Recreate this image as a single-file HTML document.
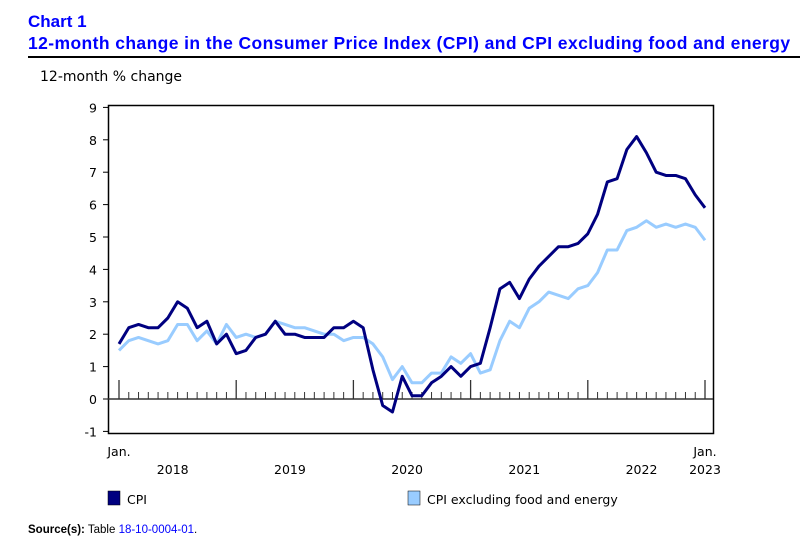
<!DOCTYPE html>
<html><head><meta charset="utf-8"><style>
body{margin:0;width:800px;height:547px;background:#fff;font-family:"DejaVu Sans",sans-serif;overflow:hidden;position:relative}
.t{position:absolute;left:28px;color:#0000ff;font-weight:bold;font-size:16px;white-space:nowrap;font-family:"Liberation Sans",sans-serif}
</style></head><body>
<div class="t" style="top:12px;font-size:17px">Chart 1</div>
<div class="t" style="top:33px;font-size:17.5px;letter-spacing:0.4px">12-month change in the Consumer Price Index (CPI) and CPI excluding food and energy</div>
<div style="position:absolute;left:28px;top:56px;width:772px;height:2px;background:#000"></div>
<svg id="c" width="800" height="547" style="position:absolute;left:0;top:0"></svg>
<div style="position:absolute;left:28px;top:524px;font-size:11.5px;font-family:'Liberation Sans',sans-serif"><b>Source(s):</b> Table <span style="color:#0000ff">18-10-0004-01</span>.</div>
<script>
const cpi=[1.7,2.2,2.3,2.2,2.2,2.5,3.0,2.8,2.2,2.4,1.7,2.0,1.4,1.5,1.9,2.0,2.4,2.0,2.0,1.9,1.9,1.9,2.2,2.2,2.4,2.2,0.9,-0.2,-0.4,0.7,0.1,0.1,0.5,0.7,1.0,0.7,1.0,1.1,2.2,3.4,3.6,3.1,3.7,4.1,4.4,4.7,4.7,4.8,5.1,5.7,6.7,6.8,7.7,8.1,7.6,7.0,6.9,6.9,6.8,6.3,5.9];
const core=[1.5,1.8,1.9,1.8,1.7,1.8,2.3,2.3,1.8,2.1,1.7,2.3,1.9,2.0,1.9,2.0,2.4,2.3,2.2,2.2,2.1,2.0,2.0,1.8,1.9,1.9,1.7,1.3,0.6,1.0,0.5,0.5,0.8,0.8,1.3,1.1,1.4,0.8,0.9,1.8,2.4,2.2,2.8,3.0,3.3,3.2,3.1,3.4,3.5,3.9,4.6,4.6,5.2,5.3,5.5,5.3,5.4,5.3,5.4,5.3,4.9];
const yTicks=[9,8,7,6,5,4,3,2,1,0,-1];
const years=["2018","2019","2020","2021","2022"];
const svg=document.getElementById('c');const NS='http://www.w3.org/2000/svg';
const F='DejaVu Sans';
const X=i=>119+i*(586/60);const Y=v=>399-v*32.4;
function mk(t,a,txt){const e=document.createElementNS(NS,t);for(const k in a)e.setAttribute(k,a[k]);if(txt!=null)e.textContent=txt;svg.appendChild(e);return e;}
let e=mk('text',{x:40,y:81,'font-size':14,fill:'#000','font-family':F},'12-month % change');


e=mk('rect',{x:108.5,y:105.5,width:605,height:328,fill:'none',stroke:'#000','stroke-width':1.5});


yTicks.forEach(v=>{
 e=mk('line',{x1:103,x2:108,y1:Y(v),y2:Y(v),stroke:'#000'});
 
 
 e=mk('text',{x:97,y:Y(v)+5,'font-size':12.5,'text-anchor':'end','font-family':F},String(v));
 
 
});
e=mk('line',{x1:108,x2:713,y1:Y(0),y2:Y(0),stroke:'#333','stroke-width':1.5});


for(let i=0;i<cpi.length;i++){
 const maj=i%12==0;
 e=mk('line',{x1:X(i),x2:X(i),y1:Y(0)-(maj?19:7),y2:Y(0),stroke:'#333','stroke-width':maj?1.3:1});
 
 
}
[[0,'Jan.'],[60,'Jan.']].forEach(([i,t])=>{
 e=mk('text',{x:X(i),y:456,'font-size':12.5,'text-anchor':'middle','font-family':F},t);
 
 
});
years.forEach((y,k)=>{
 e=mk('text',{x:X(k*12+5.5),y:474,'font-size':12.5,'text-anchor':'middle','font-family':F},y);
 
 
});
e=mk('text',{x:X(60),y:474,'font-size':12.5,'text-anchor':'middle','font-family':F},'2023');


e=mk('polyline',{points:core.map((v,i)=>X(i)+','+Y(v)).join(' '),fill:'none',stroke:'#99ccff','stroke-width':3,'stroke-linejoin':'round'});


e=mk('polyline',{points:cpi.map((v,i)=>X(i)+','+Y(v)).join(' '),fill:'none',stroke:'#000080','stroke-width':3,'stroke-linejoin':'round'});


[[108,'#000080','CPI'],[408,'#99ccff','CPI excluding food and energy']].forEach(([x,c,t])=>{
 e=mk('rect',{x:x,y:491,width:12,height:14,fill:c,stroke:'#000','stroke-width':0.5});
 
 
 e=mk('text',{x:x+19,y:504,'font-size':12.5,'font-family':F},t);
 
 
});
</script>
</body></html>
